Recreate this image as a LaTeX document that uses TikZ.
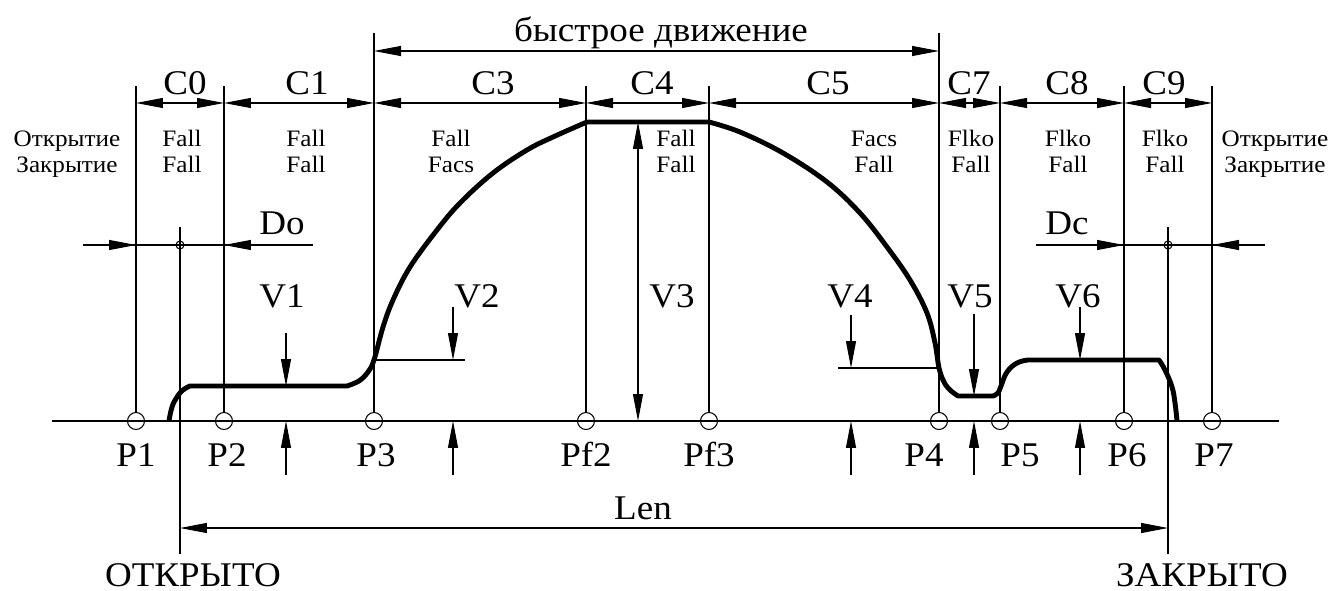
\documentclass[tikz,border=0pt]{standalone}
\usepackage{fontspec}
\setmainfont[FakeStretch=1.07]{Liberation Serif}
\usetikzlibrary{arrows.meta,positioning,calc}
\tikzset{
  dimline/.style={line width=0.6pt},
  dimarr/.style={dimline,arrows={Triangle[length=5.4mm,width=2mm]-Triangle[length=5.4mm,width=2mm]}},
  dimtip/.style={dimline,-{Triangle[length=5.4mm,width=2mm]}},
  profile/.style={line width=2.8pt,line join=round,line cap=butt},
  big/.style={font=\fontsize{19.7}{22}\selectfont,inner sep=0pt,anchor=base},
  small/.style={font=\fontsize{13.4}{14.8}\selectfont,inner sep=0pt,anchor=base,align=center},
  pcirc/.style={circle,draw,line width=0.6pt,minimum size=3.4mm,inner sep=0pt},
  ccirc/.style={circle,draw,line width=0.6pt,minimum size=1.6mm,inner sep=0pt}
}
\begin{document}
\begin{tikzpicture}[x=0.02cm,y=-0.02cm]
\useasboundingbox (0,0) rectangle (1334,591);
\coordinate (axl) at (52,421);
\coordinate (axr) at (1279,421);
\draw[dimline] (axl) -- (axr);
\foreach \n/\x/\t in {p1/136/86,p2/224/86,p3/374/33,pf2/586/86,pf3/709/86,p4/939/33,p5/1000/86,p6/1124/86,p7/1212/86}{
  \node[pcirc] (\n) at (\x,421) {};
  \coordinate (\n t) at (\x,\t);
  \coordinate (\n c) at (\x,103);
  \draw[dimline] (\n t) -- (\n.north);
}
\foreach \a/\b/\t/\tx in {p1/p2/C0/185,p2/p3/C1/307,p3/pf2/C3/493,pf2/pf3/C4/652,pf3/p4/C5/828,p4/p5/C7/969,p5/p6/C8/1067,p6/p7/C9/1164}{
  \draw[dimarr] (\a c) -- (\b c);
  \node[big] (\t) at (\tx,95) {\t};
}
\coordinate (fl) at (374,51);
\coordinate (fr) at (939,51);
\draw[dimarr] (fl) -- (fr);
\node[big] (fast) at (661,42) {быстрое движение};
\foreach \tx/\one/\two [count=\i] in {67/Открытие/Закрытие,182/Fall/Fall,306/Fall/Fall,451/Fall/Facs,676/Fall/Fall,874/Facs/Fall,971/Flko/Fall,1068/Flko/Fall,1165/Flko/Fall,1275/Открытие/Закрытие}
  \node[small] (mode\i) at (\tx,173) {\one\\\two};
% Do / Dc
\node[ccirc] (do) at (180,245) {};
\node[ccirc] (dc) at (1168,245) {};
\coordinate (dol) at (83,245);
\coordinate (dor) at (313,245);
\coordinate (dcl) at (1036,245);
\coordinate (dcr) at (1265,245);
\coordinate (p1d) at (136,245);
\coordinate (p2d) at (224,245);
\coordinate (p6d) at (1124,245);
\coordinate (p7d) at (1212,245);
\draw[dimline] (dol) -- (dor);
\draw[dimline] (dcl) -- (dcr);
\draw[dimtip] (dol) -- (p1d);
\draw[dimtip] (dor) -- (p2d);
\draw[dimtip] (dcl) -- (p6d);
\draw[dimtip] (dcr) -- (p7d);
\node[big] (Do) at (282,235) {Do};
\node[big] (Dc) at (1067,235) {Dc};
\coordinate (dot) at (180,227);
\coordinate (dob) at (180,554);
\coordinate (dct) at (1168,227);
\coordinate (dcb) at (1168,554);
\draw[dimline] (dot) -- (dob);
\draw[dimline] (dct) -- (dcb);
\coordinate (lenl) at (180,528);
\coordinate (lenr) at (1168,528);
\draw[dimarr] (lenl) -- (lenr);
\node[big] (len) at (643,519) {Len};
\node[big] (open) at (193,586) {ОТКРЫТО};
\node[big] (close) at (1202,586) {ЗАКРЫТО};
% profile
\draw[profile] plot[smooth,tension=.7] coordinates {(169,421) (172,407) (177,397) (183,390) (190,386)}
  -- (347,386)
  -- plot[smooth,tension=.6] coordinates {(347,386) (359,381) (368,372) (374,360) (383,327) (393,300) (410,267) (437,230) (460,203) (493,173) (527,150) (553,137) (587,122)}
  -- (709,122)
  -- plot[smooth,tension=.6] coordinates {(709,122) (740,132) (783,153) (827,182) (860,213) (887,247) (910,280) (927,313) (935,343) (939,368) (944,382) (950,390) (958,396)}
  -- (993,396)
  -- plot[smooth,tension=.7] coordinates {(993,396) (998,393) (1001,386) (1007,372) (1017,363) (1028,360)}
  -- (1159,360)
  -- plot[smooth,tension=.7] coordinates {(1159,360) (1165,370) (1172,387) (1175,403) (1177,421)};
% heights
\coordinate (v2l) at (375,360);
\coordinate (v2r) at (465,360);
\coordinate (v4l) at (838,368);
\coordinate (v4r) at (938,368);
\draw[dimline] (v2l) -- (v2r);
\draw[dimline] (v4l) -- (v4r);
\foreach \i/\x/\ta/\tb/\lx in {1/286/333/386/282,2/453/307/360/477,4/851/315/368/850,5/974/314/396/970,6/1080/307/360/1078}{
  \coordinate (v\i a) at (\x,\ta);
  \coordinate (v\i b) at (\x,\tb);
  \coordinate (v\i c) at (\x,475);
  \coordinate (v\i d) at (\x,421);
  \draw[dimtip] (v\i a) -- (v\i b);
  \draw[dimtip] (v\i c) -- (v\i d);
  \node[big] (V\i) at (\lx,307) {V\i};
}
\coordinate (v3a) at (638,122);
\coordinate (v3b) at (638,421);
\draw[dimarr] (v3a) -- (v3b);
\node[big] (V3) at (672,307) {V3};
\foreach \t/\x [count=\i] in {P1/136,P2/227,P3/376,Pf2/586,Pf3/709,P4/924,P5/1020,P6/1127,P7/1214}
  \node[big] (lbl\i) at (\x,466) {\t};
\end{tikzpicture}
\end{document}
